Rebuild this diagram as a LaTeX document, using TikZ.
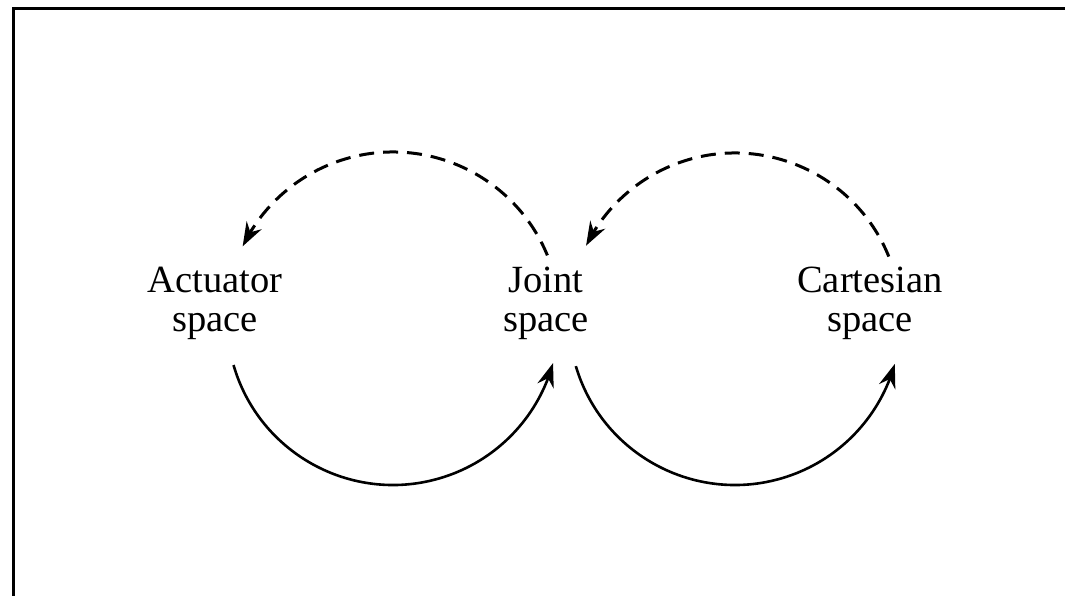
\documentclass[tikz,border=0pt]{standalone}
\usepackage{fontspec}
\setmainfont{Liberation Serif}
\usetikzlibrary{arrows.meta,bending}
\begin{document}
\begin{tikzpicture}[x=1pt,y=1pt,
  label/.style={font=\fontsize{38.5}{39}\selectfont, align=center, anchor=base, inner sep=0pt},
  tip/.style={-{Stealth[length=24pt,width=17pt,inset=8pt,flex]}},
  forward/.style={line width=2.6pt, tip},
  inverse/.style={line width=3pt, dash pattern=on 15pt off 9pt, tip},
  frame/.style={line width=3pt}]
  \useasboundingbox (0,0) rectangle (1065,596);
  % open frame: left and top edges
  \coordinate (fb) at (13,0);
  \coordinate (fc) at (13,587);
  \coordinate (fr) at (1065,587);
  \draw[frame] (fb) -- (fc) -- (fr);
  % the three spaces (base anchor sits on the second line)
  \node[label] (act) at (215,264) {Actuator\\space};
  \node[label] (joint) at (546,264) {Joint\\space};
  \node[label] (cart) at (870,264) {Cartesian\\space};
  % centres of the two loops
  \coordinate (l) at (393,277);
  \coordinate (r) at (735,277);
  % forward mappings (solid, lower halves)
  \draw[forward] ([shift={(196.1:166)}]l) arc[start angle=196.1, end angle=344.6, radius=166];
  \draw[forward] ([shift={(196.5:166)}]r) arc[start angle=196.5, end angle=344.3, radius=166];
  % inverse mappings (dashed, upper halves)
  \draw[inverse] ([shift={(22.4:167)}]l) arc[start angle=22.4, end angle=154.2, radius=167];
  \draw[inverse] ([shift={(22.1:166)}]r) arc[start angle=22.1, end angle=153.8, radius=166];
\end{tikzpicture}
\end{document}
